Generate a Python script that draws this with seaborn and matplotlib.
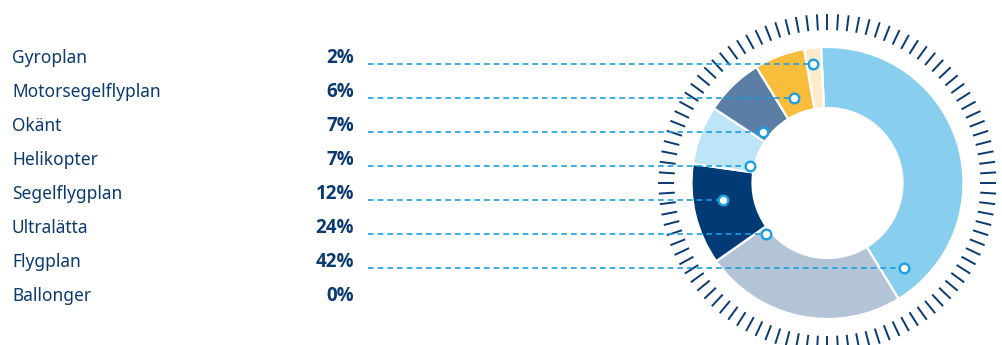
import numpy as np
import matplotlib
matplotlib.use("Agg")
import matplotlib.pyplot as plt
import seaborn as sns

# ---- data ----
labels = ["Gyroplan", "Motorsegelflyplan", "Okänt", "Helikopter",
          "Segelflygplan", "Ultralätta", "Flygplan", "Ballonger"]
percents = [2, 6, 7, 7, 12, 24, 42, 0]
pct_labels = ["2%", "6%", "7%", "7%", "12%", "24%", "42%", "0%"]

# donut order (clockwise from top)
donut_order = ["Flygplan", "Ultralätta", "Segelflygplan", "Helikopter",
               "Okänt", "Motorsegelflyplan", "Gyroplan"]

# ---- style / layout ----
colors = {
    "Flygplan": "#87CEEF",
    "Ultralätta": "#B3C4D7",
    "Segelflygplan": "#003B76",
    "Helikopter": "#BEE4F7",
    "Okänt": "#5B7EA7",
    "Motorsegelflyplan": "#F9BC3B",
    "Gyroplan": "#FEEBCB",
}
marker_x = {  # x position of connector end inside each slice (pixels)
    "Gyroplan": 813, "Motorsegelflyplan": 794, "Okänt": 763,
    "Helikopter": 750, "Segelflygplan": 723, "Ultralätta": 766,
    "Flygplan": 904,
}
navy = "#0B3A70"
blue = "#1B9FDF"
W, H = 1003, 345
cx, cy = 827.5, 183
R_out, R_in = 136, 75
row0, row_step = 58, 34

sns.set_theme(style="white")
plt.rcParams["font.family"] = ["Noto Sans", "DejaVu Sans"]

fig = plt.figure(figsize=(W / 100, H / 100), dpi=100)
ax = fig.add_axes([0, 0, 1, 1])

def Y(y):
    return H - y

# donut
vals = [percents[labels.index(n)] for n in donut_order]
ax.pie(vals, colors=[colors[n] for n in donut_order], radius=R_out,
       center=(cx, Y(cy)), startangle=92.7, counterclock=False,
       wedgeprops=dict(width=R_out - R_in, edgecolor="white", linewidth=1.6))

# tick ring (100 ticks)
for k in range(100):
    a = np.pi / 2 - 2 * np.pi * k / 100
    r1, r2 = 153, 169
    ax.plot([cx + r1 * np.cos(a), cx + r2 * np.cos(a)],
            [Y(cy) + r1 * np.sin(a), Y(cy) + r2 * np.sin(a)],
            color=navy, lw=1.4, solid_capstyle="butt", zorder=1)

# labels, percentages, connectors
mx, my = [], []
for i, (lab, pl) in enumerate(zip(labels, pct_labels)):
    ty = row0 + i * row_step
    ax.text(12, Y(ty), lab, ha="left", va="center", fontsize=12.5, color=navy)
    ax.text(354, Y(ty), pl, ha="right", va="center",
            fontsize=13.5, color=navy, fontweight="bold",
            family=["Open Sans", "DejaVu Sans"])
    if lab in marker_x:
        ly = ty + 6
        ax.plot([368, marker_x[lab]], [Y(ly), Y(ly)], color=blue, lw=1.2,
                linestyle=(0, (3.4, 2.4)), zorder=4)
        mx.append(marker_x[lab])
        my.append(Y(ly))

sns.scatterplot(x=mx, y=my, ax=ax, s=48, color="white", edgecolor=blue,
                linewidth=1.7, zorder=5, legend=False)

ax.set_xlim(0, W)
ax.set_ylim(0, H)
ax.set_aspect("equal")
ax.axis("off")
fig.savefig("out.png", dpi=100)
